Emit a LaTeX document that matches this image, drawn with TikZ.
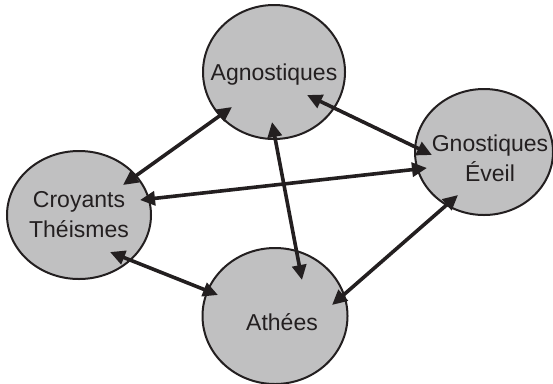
\documentclass[tikz,border=0pt]{standalone}
\usepackage{fontspec}
\setmainfont{Liberation Sans}
\usetikzlibrary{shapes.geometric,arrows.meta,calc}
\definecolor{bubblegray}{RGB}{192,192,193}
\definecolor{inkc}{RGB}{35,31,32}
\tikzset{
  bubble/.style={ellipse,draw=inkc,line width=2bp,fill=bubblegray,inner sep=0pt},
  lbl/.style={text=inkc,font=\fontsize{23bp}{30bp}\selectfont,align=center,inner sep=0pt},
  link/.style={draw=inkc,line width=3.6bp,{Triangle[length=15bp,width=14bp]}-{Triangle[length=15bp,width=14bp]}}
}
\begin{document}
\begin{tikzpicture}[x=1bp,y=-1bp]
\useasboundingbox (0,0) rectangle (553,383);
\node[bubble,minimum width=142bp,minimum height=134bp] (ag) at (274,72) {};
\node[bubble,minimum width=144bp,minimum height=128bp] (cr) at (79,215) {};
\node[bubble,minimum width=138bp,minimum height=126bp] (gn) at (484,152) {};
\node[bubble,minimum width=145bp,minimum height=136bp] (at) at (275,316) {};
\node[lbl] (agt) at ($(ag.center)+(0,3)$) {Agnostiques};
\node[lbl] (crt) at ($(cr.center)+(0,0)$) {Croyants\\Théismes};
\node[lbl] (gnt) at ($(gn.center)+(6,6)$) {Gnostiques\\Éveil};
\node[lbl] (att) at ($(at.center)+(7,6)$) {Athées};
\draw[link] ($(ag.center)+(-42,35)$) -- ($(cr.center)+(44,-30)$);
\draw[link] ($(ag.center)+(-2,50)$) -- ($(at.center)+(27,-36)$);
\draw[link] ($(ag.center)+(33,23)$) -- ($(gn.center)+(-52,3)$);
\draw[link] ($(cr.center)+(61,-15)$) -- ($(gn.center)+(-57,16)$);
\draw[link] ($(cr.center)+(31,37)$) -- ($(at.center)+(-57,-21)$);
\draw[link] ($(gn.center)+(-26,43)$) -- ($(at.center)+(57,-11)$);
\end{tikzpicture}
\end{document}
